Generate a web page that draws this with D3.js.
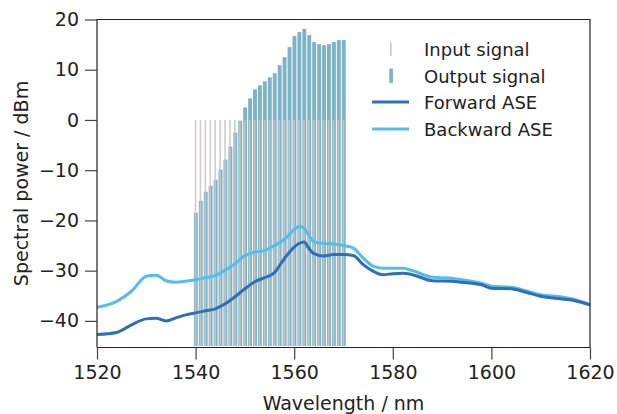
<!DOCTYPE html>
<html>
<head>
<meta charset="utf-8">
<script src="https://cdn.jsdelivr.net/npm/d3@7"></script>
<style>
  html, body { margin: 0; padding: 0; background: #fff; }
  svg { display: block; font-family: "DejaVu Sans", sans-serif; }
</style>
</head>
<body>
<div id="chart"></div>
<script>
// signal channels (nm) and their powers (dBm)
const channelWl = [1540, 1541, 1542, 1543, 1544, 1545, 1546, 1547, 1548, 1549, 1550,
  1551, 1552, 1553, 1554, 1555, 1556, 1557, 1558, 1559, 1560,
  1561, 1562, 1563, 1564, 1565, 1566, 1567, 1568, 1569, 1570];
const inputPower = [0, 0, 0, 0, 0, 0, 0, 0, 0, 0, 0,
  0, 0, 0, 0, 0, 0, 0, 0, 0, 0,
  0, 0, 0, 0, 0, 0, 0, 0, 0, 0];
const outputPower = [-18.5, -16.1, -14.3, -13.1, -11.9, -9.9, -7.9, -5.3, -2.5, -0.2, 2.5,
  4.3, 6.1, 6.9, 7.7, 8.5, 9.3, 10.9, 12.5, 14.5, 16.7,
  17.5, 18.1, 16.9, 15.5, 15.1, 14.9, 15.1, 15.5, 15.9, 15.9];

// ASE spectra
const aseWl = [1520, 1524, 1527, 1530, 1532, 1534, 1536, 1538, 1540, 1542, 1544, 1546, 1548,
  1550, 1552, 1554, 1556, 1558, 1560, 1561, 1562, 1563, 1564, 1566, 1568, 1570, 1572,
  1574, 1576, 1578, 1580, 1582, 1584, 1588, 1592, 1594, 1598, 1600, 1604, 1607, 1610,
  1613, 1617, 1620];
const forwardASE = [-42.7, -42.3, -40.8, -39.6, -39.5, -40.0, -39.4, -38.8, -38.4, -38.0, -37.6, -36.6, -35.2,
  -33.6, -32.2, -31.4, -30.4, -27.6, -25.3, -24.6, -24.3, -25.6, -26.6, -27.1, -26.8, -26.8, -27.0,
  -28.8, -30.1, -30.8, -30.6, -30.5, -30.8, -32.0, -32.1, -32.3, -32.8, -33.5, -33.6, -34.3, -35.1,
  -35.5, -36.0, -36.8];
const backwardASE = [-37.3, -36.1, -34.1, -31.1, -30.9, -32.0, -32.3, -32.1, -31.8, -31.4, -31.0, -29.9, -28.6,
  -27.0, -26.3, -26.0, -25.0, -23.8, -21.8, -21.2, -21.5, -23.0, -24.2, -24.6, -24.7, -25.0, -25.5,
  -27.5, -29.1, -29.5, -29.5, -29.5, -30.0, -31.3, -31.5, -31.8, -32.5, -33.1, -33.3, -34.0, -34.8,
  -35.1, -35.8, -36.8];

const xTicks = [1520, 1540, 1560, 1580, 1600, 1620];
const yTicks = [-40, -30, -20, -10, 0, 10, 20];
const legendLabels = ['Input signal', 'Output signal', 'Forward ASE', 'Backward ASE'];

const colors = {
  input: '#cbc6c6',
  output: '#7db3c7',
  forward: '#2e6fba',
  backward: '#55bdec'
};

const W = 617, H = 414;
const margin = { top: 19.5, right: 27, bottom: 68, left: 97 };

const svg = d3.select('#chart').append('svg')
  .attr('width', W).attr('height', H);

const x = d3.scaleLinear().domain([1520, 1620]).range([margin.left, W - margin.right]);
const y = d3.scaleLinear().domain([-45, 20]).range([H - margin.bottom, margin.top]);

// 出力信号バー
svg.append('g').selectAll('rect')
  .data(channelWl.map((w, i) => ({ w, v: outputPower[i] })))
  .join('rect')
  .attr('x', d => x(d.w) - 1.7)
  .attr('width', 3.9)
  .attr('y', d => y(d.v))
  .attr('height', d => y(-45) - y(d.v))
  .attr('fill', colors.output);

// 入力信号（細線）
svg.append('g').selectAll('rect')
  .data(channelWl.map((w, i) => ({ w, v: inputPower[i] })))
  .join('rect')
  .attr('x', d => x(d.w) - 0.9)
  .attr('width', 1.6)
  .attr('y', d => y(d.v))
  .attr('height', d => y(-45) - y(d.v))
  .attr('fill', colors.input)
  .attr('opacity', 0.9);

// ASE curves
const line = d3.line()
  .x(d => x(d[0]))
  .y(d => y(d[1]))
  .curve(d3.curveMonotoneX);

svg.append('path')
  .datum(aseWl.map((w, i) => [w, backwardASE[i]]))
  .attr('d', line)
  .attr('fill', 'none')
  .attr('stroke', colors.backward)
  .attr('stroke-width', 3);

svg.append('path')
  .datum(aseWl.map((w, i) => [w, forwardASE[i]]))
  .attr('d', line)
  .attr('fill', 'none')
  .attr('stroke', colors.forward)
  .attr('stroke-width', 3);

// frame
const x0 = x(1520), x1 = x(1620), yTop = y(20), yBot = y(-45) + 1.5;
svg.append('path')
  .attr('d', `M${x0},${yBot}V${yTop}H${x1}V${yBot}H${x0}`)
  .attr('fill', 'none')
  .attr('stroke', '#222')
  .attr('stroke-width', 1.2);

// x axis
const xAxis = svg.append('g').attr('transform', `translate(0,${yBot})`);
xAxis.call(d3.axisBottom(x).tickValues(d3.range(1520, 1621, 10)).tickSize(7).tickFormat(''))
  .call(g => g.select('.domain').remove())
  .call(g => g.selectAll('line').attr('stroke', '#444').attr('stroke-width', 1.2));
xAxis.call(d3.axisBottom(x).tickValues(xTicks).tickSize(12).tickPadding(6).tickFormat(d3.format('d')))
  .call(g => g.select('.domain').remove())
  .call(g => g.selectAll('line').attr('stroke', '#444').attr('stroke-width', 1.2))
  .call(g => g.selectAll('text').attr('font-size', 19).attr('fill', '#222')
    .attr('font-family', '"DejaVu Sans", sans-serif'));

// y axis
const yAxis = svg.append('g').attr('transform', `translate(${x0},0)`);
yAxis.call(d3.axisLeft(y).tickValues(d3.range(-45, 21, 5)).tickSize(7).tickFormat(''))
  .call(g => g.select('.domain').remove())
  .call(g => g.selectAll('line').attr('stroke', '#444').attr('stroke-width', 1.2));
yAxis.call(d3.axisLeft(y).tickValues(yTicks).tickSize(12).tickPadding(6)
    .tickFormat(d => d < 0 ? '\u2212' + Math.abs(d) : d))
  .call(g => g.select('.domain').remove())
  .call(g => g.selectAll('line').attr('stroke', '#444').attr('stroke-width', 1.2))
  .call(g => g.selectAll('text').attr('font-size', 19).attr('fill', '#222')
    .attr('font-family', '"DejaVu Sans", sans-serif'));

// axis titles
svg.append('text')
  .attr('x', (x0 + x1) / 2)
  .attr('y', 410)
  .attr('text-anchor', 'middle')
  .attr('font-size', 19)
  .attr('fill', '#222')
  .text('Wavelength / nm');

svg.append('text')
  .attr('transform', `translate(28,${(yTop + yBot) / 2}) rotate(-90)`)
  .attr('text-anchor', 'middle')
  .attr('font-size', 19)
  .attr('fill', '#222')
  .text('Spectral power / dBm');

// legend
const legend = svg.append('g');
const rowY = [49, 76, 102, 129];
legendLabels.forEach((label, i) => {
  const cy = rowY[i];
  if (i === 0) {
    legend.append('rect').attr('x', 390).attr('y', cy - 6.5).attr('width', 1.6).attr('height', 13.5)
      .attr('fill', colors.input);
  } else if (i === 1) {
    legend.append('rect').attr('x', 389.3).attr('y', cy - 7.5).attr('width', 3.6).attr('height', 14.5)
      .attr('fill', colors.output);
  } else {
    legend.append('line').attr('x1', 372).attr('x2', 409).attr('y1', cy).attr('y2', cy)
      .attr('stroke', i === 2 ? colors.forward : colors.backward).attr('stroke-width', 3);
  }
  legend.append('text')
    .attr('x', 424)
    .attr('y', cy + 6.5)
    .attr('font-size', 18)
    .attr('fill', '#222')
    .text(label);
});
</script>
</body>
</html>
